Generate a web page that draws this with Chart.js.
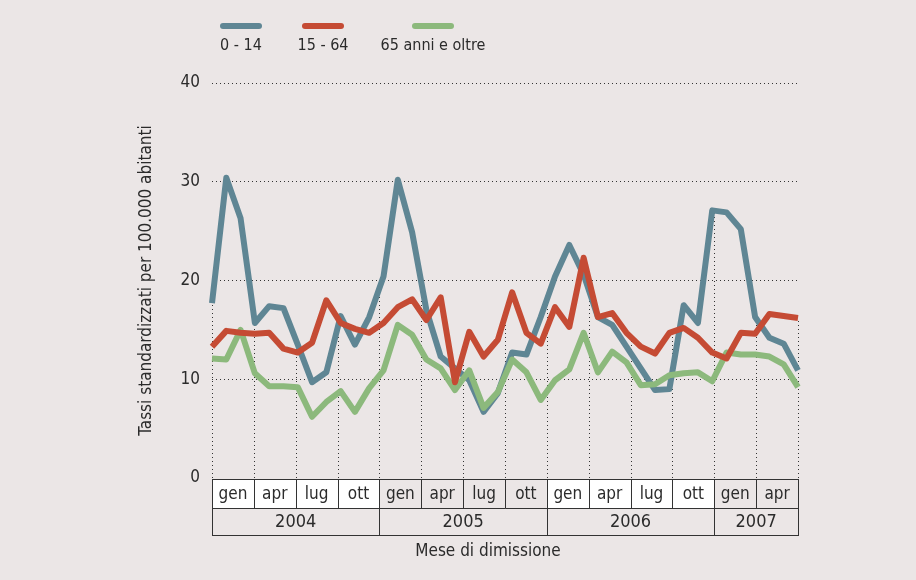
<!DOCTYPE html>
<html>
<head>
<meta charset="utf-8">
<script src="https://cdn.jsdelivr.net/npm/chart.js@4.4.1/dist/chart.umd.min.js"></script>
<style>
  html, body { margin: 0; padding: 0; background: #ebe6e6; }
  #box { width: 916px; height: 580px; }
</style>
</head>
<body>
<div id="box"><canvas id="grafico"></canvas></div>
<script>
const ctx = document.getElementById('grafico') // il canvas

// mesi da gen 2004 a giu 2007
const mesi = ['gen04','feb04','mar04','apr04','mag04','giu04','lug04','ago04','set04','ott04','nov04','dic04',
  'gen05','feb05','mar05','apr05','mag05','giu05','lug05','ago05','set05','ott05','nov05','dic05',
  'gen06','feb06','mar06','apr06','mag06','giu06','lug06','ago06','set06','ott06','nov06','dic06',
  'gen07','feb07','mar07','apr07','mag07','giu07']
const trimestri = ['gen','apr','lug','ott','gen','apr','lug','ott','gen','apr','lug','ott','gen','apr']
const anni = ['2004','2005','2006','2007']
const trimestriPerAnno = [4, 4, 4, 2]
const tickY = [0, 10, 20, 30, 40]

const eta0_14 = [17.7,30.4,26.3,15.7,17.4,17.2,13.5,9.7,10.7,16.4,13.5,16.3,
  20.4,30.2,24.9,17.0,12.3,11.1,9.9,6.7,8.6,12.7,12.5,16.3,
  20.4,23.6,20.6,16.3,15.5,13.3,11.1,8.9,9.0,17.5,15.7,27.1,
  26.9,25.2,16.3,14.2,13.6,10.9]
const eta15_64 = [13.3,14.9,14.7,14.6,14.7,13.1,12.7,13.7,18.0,15.7,15.1,14.7,
  15.7,17.3,18.1,16.0,18.3,9.7,14.8,12.3,14.0,18.8,14.7,13.6,
  17.3,15.3,22.3,16.3,16.7,14.7,13.3,12.6,14.7,15.2,14.2,12.7,
  12.1,14.7,14.6,16.6,16.4,16.2]
const eta65 = [12.1,12.0,15.0,10.6,9.3,9.3,9.2,6.2,7.7,8.8,6.7,9.1,
  10.9,15.5,14.5,12.0,11.1,8.9,10.9,7.1,8.7,12.0,10.7,7.9,
  9.9,11.0,14.7,10.7,12.8,11.7,9.4,9.5,10.4,10.6,10.7,9.8,
  12.7,12.5,12.5,12.3,11.5,9.2]

const font = "'Liberation Sans Narrow', 'DejaVu Sans Condensed', 'Liberation Sans', sans-serif"
const testo = '#2b2b2b'

// linee verticali tratteggiate ai confini dei trimestri, fino alla linea piu alta
const lineeVerticali = {
  id: 'lineeVerticali',
  beforeDatasetsDraw(chart) {
    const c = chart.ctx
    const q = chart.scales.xq
    const area = chart.chartArea
    const w = q.getPixelForValue(1) - q.getPixelForValue(0)
    c.save()
    c.strokeStyle = '#333'
    c.lineWidth = 1
    c.setLineDash([1, 3])
    for (let k = 0; k <= trimestri.length; k++) {
      const px = k < trimestri.length ? q.getPixelForValue(k) - w / 2 : q.getPixelForValue(k - 1) + w / 2
      let top = area.bottom
      chart.data.datasets.forEach(function(d, i) {
        const pts = chart.getDatasetMeta(i).data
        for (let j = 0; j < pts.length - 1; j++) {
          const a = pts[j], b = pts[j + 1]
          if (px >= a.x - 0.5 && px <= b.x + 0.5) {
            const t = Math.min(1, Math.max(0, (px - a.x) / (b.x - a.x)))
            top = Math.min(top, a.y + (b.y - a.y) * t)
            break
          }
        }
      })
      const x = Math.round(px) + 0.5
      c.beginPath()
      c.moveTo(x, area.bottom)
      c.lineTo(x, top)
      c.stroke()
    }
    c.restore()
  }
}

// tabella sotto il grafico con trimestri e anni + titolo asse x
const tabella = {
  id: 'tabella',
  afterDraw(chart) {
    const c = chart.ctx
    const q = chart.scales.xq
    const area = chart.chartArea
    const w = q.getPixelForValue(1) - q.getPixelForValue(0)
    const y0 = area.bottom + 1, y1 = y0 + 29, y2 = y1 + 27
    c.save()
    let k = 0
    anni.forEach(function(anno, i) {
      const n = trimestriPerAnno[i]
      const xa = q.getPixelForValue(k) - w / 2
      const xb = q.getPixelForValue(k + n - 1) + w / 2
      c.fillStyle = i % 2 === 0 ? '#ffffff' : '#ebe6e6' // anni alterni bianchi
      c.fillRect(xa, y0, xb - xa, y1 - y0)
      c.fillStyle = testo
      c.textAlign = 'center'
      c.textBaseline = 'middle'
      c.font = '18px ' + font
      c.fillText(anno, (xa + xb) / 2, (y1 + y2) / 2 + 1)
      c.font = '17px ' + font
      for (let j = 0; j < n; j++) {
        c.fillText(trimestri[k + j], q.getPixelForValue(k + j), (y0 + y1) / 2 + 1)
      }
      k += n
    })
    c.strokeStyle = '#333'
    c.lineWidth = 1
    const L = Math.round(area.left) + 0.5, R = Math.round(area.right) + 0.5
    c.strokeRect(L, Math.round(y0) + 0.5, R - L, Math.round(y2 - y0))
    c.beginPath()
    c.moveTo(L, Math.round(y1) + 0.5); c.lineTo(R, Math.round(y1) + 0.5)
    for (let j = 1; j < trimestri.length; j++) {
      const x = Math.round(q.getPixelForValue(j) - w / 2) + 0.5
      c.moveTo(x, Math.round(y0) + 0.5)
      c.lineTo(x, Math.round(y1) + 0.5)
    }
    k = 0
    for (let i = 0; i < anni.length - 1; i++) {
      k += trimestriPerAnno[i]
      const x = Math.round(q.getPixelForValue(k) - w / 2) + 0.5
      c.moveTo(x, Math.round(y1) + 0.5)
      c.lineTo(x, Math.round(y2) + 0.5)
    }
    c.stroke()
    c.fillStyle = testo
    c.font = '17px ' + font
    c.textAlign = 'center'
    c.textBaseline = 'middle'
    c.fillText('Mese di dimissione', (area.left + area.right) / 2 - 17, y2 + 17)
    c.restore()
  }
}

// legenda in alto: linea sopra, etichetta sotto
const legenda = {
  id: 'legenda',
  afterDraw(chart) {
    const c = chart.ctx
    const centri = [241, 323, 433]
    c.save()
    c.lineCap = 'round'
    c.lineWidth = 6
    chart.data.datasets.forEach(function(d, i) {
      c.strokeStyle = d.borderColor
      c.beginPath()
      c.moveTo(centri[i] - 18, 26)
      c.lineTo(centri[i] + 18, 26)
      c.stroke()
      c.fillStyle = testo
      c.font = '16px ' + font
      c.textAlign = 'center'
      c.textBaseline = 'middle'
      c.fillText(d.label, centri[i], 46)
    })
    c.restore()
  }
}

new Chart(ctx, {
  type: 'line',
  data: {
    labels: mesi,
    datasets: [
      { label: '0 - 14', data: eta0_14, borderColor: '#5f8694', order: 3 },
      { label: '15 - 64', data: eta15_64, borderColor: '#c54b34', order: 1 },
      { label: '65 anni e oltre', data: eta65, borderColor: '#8cb97c', order: 2 }
    ]
  },
  options: {
    responsive: true,
    maintainAspectRatio: false,
    animation: false,
    layout: { padding: { left: 0, right: 118, top: 83, bottom: 102 } },
    elements: {
      line: { borderWidth: 6, tension: 0, borderJoinStyle: 'round', fill: false },
      point: { radius: 0, hoverRadius: 0 }
    },
    scales: {
      x: { type: 'category', display: false, offset: false },
      xq: { type: 'category', labels: trimestri, display: false, offset: true },
      y: {
        min: 0, max: 40,
        afterFit(s) { s.width = 212 },
        afterBuildTicks(s) { s.ticks = tickY.map(v => ({ value: v })) },
        grid: {
          drawTicks: false,
          color: c => c.tick && c.tick.value === 0 ? 'rgba(0,0,0,0)' : '#333',
          lineWidth: 1
        },
        border: { display: false, dash: [1, 3] },
        ticks: { padding: 12, color: testo, font: { family: font, size: 17 } },
        title: {
          display: true,
          text: 'Tassi standardizzati per 100.000 abitanti',
          color: testo,
          font: { family: font, size: 17 },
          padding: { top: 136, bottom: 0 }
        }
      }
    },
    plugins: {
      legend: { display: false },
      tooltip: { enabled: false }
    }
  },
  plugins: [lineeVerticali, tabella, legenda]
})
</script>
</body>
</html>
